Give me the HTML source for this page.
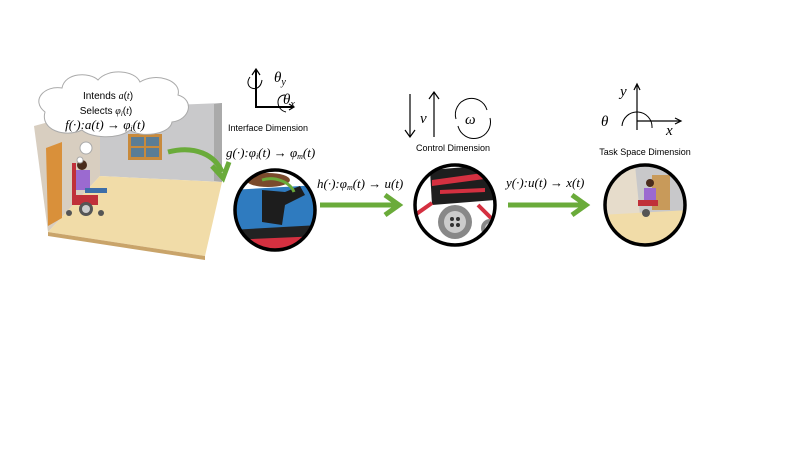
<!DOCTYPE html>
<html><head><meta charset="utf-8"><style>
html,body{margin:0;padding:0;background:#fff}
svg{display:block}
.m{font-family:"Liberation Serif",serif;font-style:italic}
.s{font-family:"Liberation Sans",sans-serif}
</style></head><body>
<svg width="800" height="450" viewBox="0 0 800 450" xmlns="http://www.w3.org/2000/svg">
<defs>
<clipPath id="c1"><circle cx="275" cy="210" r="40"/></clipPath>
<clipPath id="c2"><circle cx="455" cy="205" r="40"/></clipPath>
<clipPath id="c3"><circle cx="645" cy="205" r="40"/></clipPath>
</defs>
<!-- room -->
<polygon points="100,108 222,103 222,182 100,176" fill="#c9c9cb"/>
<polygon points="214,104 222,103 222,182 214,181" fill="#aaa"/>
<polygon points="34,126 100,108 100,176 48,232" fill="#d8cec0"/>
<polygon points="100,176 222,182 205,256 48,232" fill="#f1dca8"/>
<polygon points="48,232 205,256 205,260 48,236" fill="#c9a46a"/>
<rect x="128" y="134" width="34" height="26" fill="#c88a3c"/>
<rect x="131" y="137" width="28" height="20" fill="#5b7d95"/>
<line x1="145" y1="137" x2="145" y2="157" stroke="#c88a3c" stroke-width="2"/>
<line x1="131" y1="147" x2="159" y2="147" stroke="#c88a3c" stroke-width="2"/>
<polygon points="46,148 62,142 62,218 48,226" fill="#d9903a"/>
<!-- person -->
<rect x="72" y="163" width="4" height="40" fill="#c0303a"/>
<rect x="76" y="170" width="14" height="20" fill="#9b6ad0"/>
<circle cx="82" cy="165" r="5" fill="#4a2c1c"/>
<rect x="85" y="188" width="22" height="5" fill="#3d6ea8"/>
<rect x="72" y="195" width="26" height="10" fill="#c0303a"/>
<circle cx="86" cy="209" r="7" fill="#555"/><circle cx="86" cy="209" r="4" fill="#ccc"/>
<circle cx="69" cy="213" r="3" fill="#555"/><circle cx="101" cy="213" r="3" fill="#555"/>
<!-- cloud -->
<path d="M45,112 C30,100 45,85 62,88 C65,72 90,72 98,80 C108,68 135,70 140,82 C155,72 182,80 178,95 C195,100 190,120 172,122 C170,135 140,138 130,130 C118,140 90,138 82,130 C65,138 40,130 45,112 Z" fill="#fff" stroke="#aaa" stroke-width="1"/>
<circle cx="86" cy="148" r="6" fill="#fff" stroke="#aaa"/>
<circle cx="80" cy="160" r="3" fill="#fff" stroke="#aaa"/>
<text x="108" y="99" font-size="10" text-anchor="middle" class="s">Intends <tspan class="m">a</tspan>(<tspan class="m">t</tspan>)</text>
<text x="106" y="114" font-size="10" text-anchor="middle" class="s">Selects <tspan class="m">φ</tspan><tspan font-size="7" dy="2" class="m">i</tspan><tspan dy="-2">(</tspan><tspan class="m">t</tspan>)</text>
<text x="105" y="129" font-size="13" text-anchor="middle" class="m">f(·):a(t) → φ<tspan font-size="8" dy="2">i</tspan><tspan dy="-2">(t)</tspan></text>
<!-- green curved arrow -->
<path d="M168,152 C195,145 215,155 222,172" fill="none" stroke="#6aab3a" stroke-width="5"/>
<path d="M212,166 L223,178 L229,162" fill="none" stroke="#6aab3a" stroke-width="5"/>
<!-- interface icon -->
<path d="M256,70 L256,107 L293,107" fill="none" stroke="#000" stroke-width="2"/>
<path d="M252,75 L256,69 L260,75" fill="none" stroke="#000" stroke-width="1.2"/>
<path d="M289,104 L294,107 L289,110" fill="none" stroke="#000" stroke-width="1.2"/>
<path d="M250,77 C242,88 260,95 262,80" fill="none" stroke="#000" stroke-width="1"/>
<path d="M285,95 C275,95 276,110 286,112" fill="none" stroke="#000" stroke-width="1"/>
<text x="274" y="82" font-size="15" class="m">θ<tspan font-size="10" dy="3">y</tspan></text>
<text x="283" y="104" font-size="15" class="m">θ<tspan font-size="10" dy="3">x</tspan></text>
<text x="268" y="131" font-size="9" text-anchor="middle" class="s">Interface Dimension</text>
<text x="226" y="157" font-size="13" class="m">g(·):φ<tspan font-size="8" dy="2">i</tspan><tspan dy="-2">(t) → φ</tspan><tspan font-size="8" dy="2">m</tspan><tspan dy="-2">(t)</tspan></text>
<!-- circle 1 -->
<g clip-path="url(#c1)">
<rect x="230" y="165" width="90" height="90" fill="#fff"/>
<polygon points="230,190 320,185 320,240 230,250" fill="#2f7bbf"/>
<polygon points="230,230 320,225 320,245 230,255" fill="#222"/>
<polygon points="230,240 320,236 320,245 230,255" fill="#d43040"/>
<ellipse cx="268" cy="180" rx="22" ry="7" fill="#7a4a2c"/>
<path d="M262,190 L285,192 L300,186 L305,195 L285,205 L282,225 L262,222 Z" fill="#1d1d1d"/>
<path d="M262,180 C275,176 290,182 294,192" fill="none" stroke="#6aab3a" stroke-width="3"/>
</g>
<circle cx="275" cy="210" r="40" fill="none" stroke="#000" stroke-width="3.5"/>
<!-- arrows -->
<line x1="320" y1="205" x2="398" y2="205" stroke="#6aab3a" stroke-width="5"/>
<path d="M385,195 L399,205 L385,215" fill="none" stroke="#6aab3a" stroke-width="5"/>
<text x="317" y="188" font-size="13" class="m">h(·):φ<tspan font-size="8" dy="2">m</tspan><tspan dy="-2">(t) → u(t)</tspan></text>
<line x1="508" y1="205" x2="585" y2="205" stroke="#6aab3a" stroke-width="5"/>
<path d="M572,195 L586,205 L572,215" fill="none" stroke="#6aab3a" stroke-width="5"/>
<text x="506" y="187" font-size="13" class="m">y(·):u(t) → x(t)</text>
<!-- control icons -->
<line x1="410" y1="94" x2="410" y2="137" stroke="#000" stroke-width="1.2"/>
<path d="M405,130 L410,137 L415,130" fill="none" stroke="#000" stroke-width="1.2"/>
<line x1="434" y1="92" x2="434" y2="137" stroke="#000" stroke-width="1.2"/>
<path d="M429,99 L434,92 L439,99" fill="none" stroke="#000" stroke-width="1.2"/>
<text x="420" y="123" font-size="15" class="m">v</text>
<path d="M456,119 A16,16 0 0 1 487,110" fill="none" stroke="#000" stroke-width="1"/>
<path d="M490,118 A16,16 0 0 1 458,126" fill="none" stroke="#000" stroke-width="1"/>
<text x="465" y="124" font-size="15" class="m">ω</text>
<text x="453" y="151" font-size="9" text-anchor="middle" class="s">Control Dimension</text>
<!-- circle 2 -->
<g clip-path="url(#c2)">
<rect x="410" y="160" width="90" height="90" fill="#fff"/>
<path d="M430,170 L490,165 L495,200 L432,205 Z" fill="#1e1e1e"/>
<path d="M432,180 L490,172 L492,178 L432,186 Z" fill="#d43040"/>
<path d="M440,190 L485,188 L485,192 L440,194 Z" fill="#d43040"/>
<path d="M415,215 L432,203 M478,205 L495,222" stroke="#d43040" stroke-width="4"/>
<circle cx="455" cy="222" r="17" fill="#888"/><circle cx="455" cy="222" r="11" fill="#ccc"/>
<circle cx="452" cy="219" r="2" fill="#333"/><circle cx="458" cy="219" r="2" fill="#333"/><circle cx="452" cy="225" r="2" fill="#333"/><circle cx="458" cy="225" r="2" fill="#333"/>
<circle cx="490" cy="228" r="9" fill="#888"/><circle cx="490" cy="228" r="5" fill="#ccc"/>
</g>
<circle cx="455" cy="205" r="40" fill="none" stroke="#000" stroke-width="3.5"/>
<!-- task icon -->
<line x1="637" y1="130" x2="637" y2="85" stroke="#000" stroke-width="1.2"/>
<path d="M634,90 L637,84 L640,90" fill="none" stroke="#000" stroke-width="1.2"/>
<line x1="637" y1="121" x2="680" y2="121" stroke="#000" stroke-width="1.2"/>
<path d="M675,118 L681,121 L675,124" fill="none" stroke="#000" stroke-width="1.2"/>
<path d="M622,126 A15,15 0 1 1 652,128" fill="none" stroke="#000" stroke-width="1"/>
<text x="620" y="96" font-size="15" class="m">y</text>
<text x="666" y="135" font-size="15" class="m">x</text>
<text x="601" y="126" font-size="15" class="m">θ</text>
<text x="645" y="155" font-size="9" text-anchor="middle" class="s">Task Space Dimension</text>
<!-- circle 3 -->
<g clip-path="url(#c3)">
<rect x="600" y="160" width="90" height="90" fill="#e6dccb"/>
<polygon points="635,165 690,160 690,215 640,215" fill="#c8c8ca"/>
<polygon points="600,215 690,210 690,250 600,250" fill="#f1dca8"/>
<rect x="652" y="175" width="18" height="35" fill="#c89a5a"/>
<rect x="644" y="188" width="12" height="12" fill="#9b6ad0"/>
<circle cx="650" cy="183" r="4" fill="#4a2c1c"/>
<rect x="638" y="200" width="20" height="6" fill="#c0303a"/>
<circle cx="646" cy="213" r="4" fill="#555"/>
</g>
<circle cx="645" cy="205" r="40" fill="none" stroke="#000" stroke-width="3.5"/>
</svg>
</body></html>
